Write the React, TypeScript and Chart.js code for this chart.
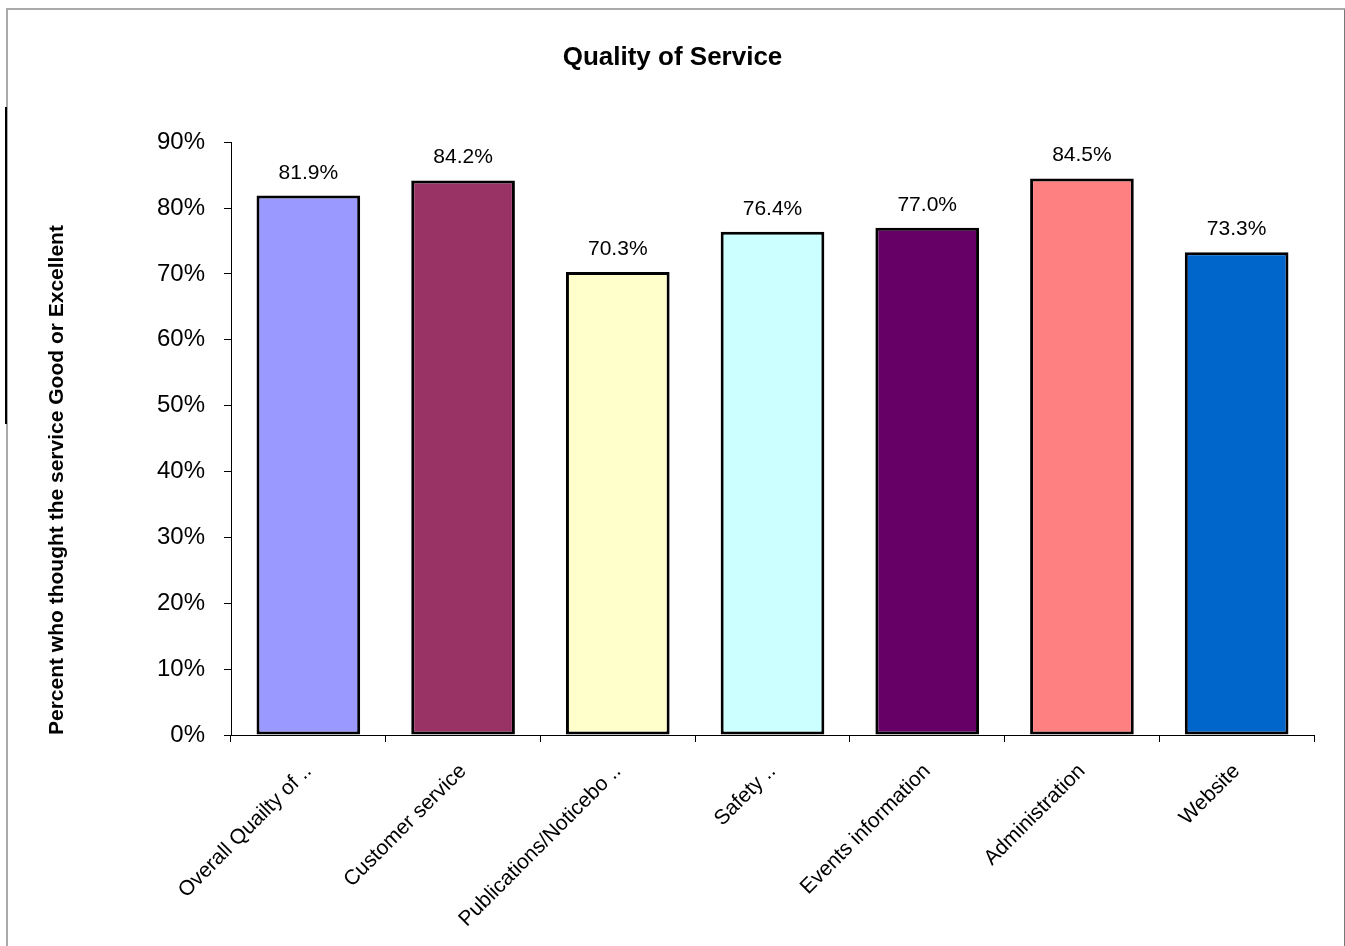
import React, { useEffect, useRef } from "react";
import { Chart, registerables } from "chart.js";

Chart.register(...registerables);

const chartTitle = "Quality of Service";
const yAxisTitle = "Percent who thought the service Good or Excellent";
const categories = [
  "Overall Quailty of ..",
  "Customer service",
  "Publications/Noticebo ..",
  "Safety ..",
  "Events information",
  "Administration",
  "Website",
];
const values = [81.9, 84.2, 70.3, 76.4, 77.0, 84.5, 73.3];
const barColors = ["#9999FF", "#993366", "#FFFFCC", "#CCFFFF", "#660066", "#FF8080", "#0066CC"];
const yMin = 0;
const yMax = 90;
const yStep = 10;

const FONT = '"Liberation Sans", Arial, sans-serif';

const dataLabels = {
  id: "dataLabels",
  afterDatasetsDraw(chart: any) {
    const ctx = chart.ctx;
    const meta = chart.getDatasetMeta(0);
    ctx.save();
    ctx.font = `21px ${FONT}`;
    ctx.fillStyle = "#000";
    ctx.textAlign = "center";
    ctx.textBaseline = "alphabetic";
    meta.data.forEach((bar: any, i: number) => {
      ctx.fillText(values[i].toFixed(1) + "%", bar.x, bar.y - 17);
    });
    ctx.restore();
  },
};

export default function App() {
  const ref = useRef<HTMLCanvasElement | null>(null);

  useEffect(() => {
    if (!ref.current) return;
    const chart = new Chart(ref.current, {
      type: "bar",
      data: {
        labels: categories,
        datasets: [
          {
            data: values,
            backgroundColor: barColors,
            borderColor: "#000",
            borderWidth: 3,
            borderSkipped: false,
            barPercentage: 0.67,
            categoryPercentage: 1,
          },
        ],
      },
      plugins: [dataLabels],
      options: {
        responsive: false,
        animation: false,
        layout: { padding: { left: 31, top: 0, right: 31, bottom: 0 } },
        plugins: {
          legend: { display: false },
          tooltip: { enabled: false },
          title: {
            display: true,
            text: chartTitle,
            color: "#000",
            font: { family: FONT, size: 26, weight: "bold" },
            padding: { top: 42, bottom: 69 },
          },
        },
        scales: {
          x: {
            afterFit: (scale: any) => {
              scale.height = 211;
            },
            grid: {
              offset: true,
              drawOnChartArea: false,
              drawTicks: true,
              tickLength: 7,
              color: "#000",
            },
            border: { display: true, color: "#000", width: 1 },
            ticks: {
              autoSkip: false,
              minRotation: 45,
              maxRotation: 45,
              color: "#000",
              padding: 17,
              labelOffset: 0,
              font: { family: FONT, size: 21 },
            },
          },
          y: {
            min: yMin,
            max: yMax,
            afterFit: (scale: any) => {
              scale.width = 200;
            },
            grid: {
              drawOnChartArea: false,
              drawTicks: true,
              tickLength: 7,
              color: "#000",
            },
            border: { display: true, color: "#000", width: 1 },
            ticks: {
              stepSize: yStep,
              color: "#000",
              padding: 19,
              font: { family: FONT, size: 24 },
              callback: (v: any) => v + "%",
            },
            title: {
              display: true,
              text: yAxisTitle,
              align: "start",
              color: "#000",
              font: { family: FONT, size: 21, weight: "bold" },
              padding: { top: 14, bottom: 0 },
            },
          },
        },
      },
    });
    return () => chart.destroy();
  }, []);

  return (
    <div style={{ position: "absolute", left: 0, top: 0, width: 1345, height: 946, overflow: "hidden", background: "#fff" }}>
      <div
        style={{
          position: "absolute",
          left: 6,
          top: 8,
          width: 1336,
          height: 960,
          borderLeft: "2px solid #aaaaaa",
          borderTop: "2px solid #aaaaaa",
          borderRight: "2px solid #777777",
        }}
      />
      <div style={{ position: "absolute", left: 5, top: 107, width: 2, height: 317, background: "#000" }} />
      <canvas ref={ref} width={1345} height={946} style={{ position: "absolute", left: 0, top: 0 }} />
    </div>
  );
}
